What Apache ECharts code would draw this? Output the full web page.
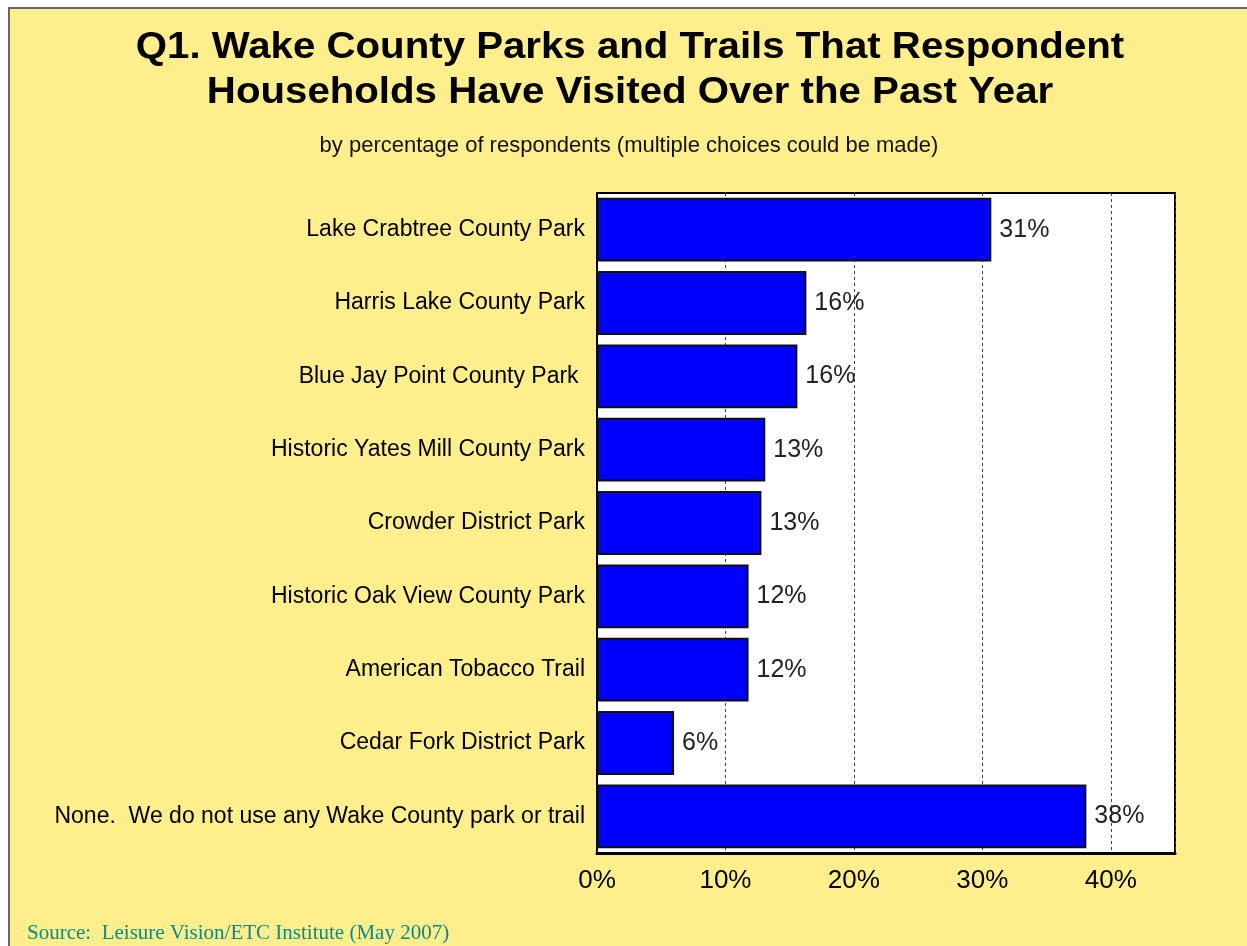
<!DOCTYPE html>
<html>
<head>
<meta charset="utf-8">
<script src="https://cdn.jsdelivr.net/npm/echarts@6/dist/echarts.min.js"></script>
<style>
  html, body { margin: 0; padding: 0; background: #ffffff; }
  #frame {
    position: absolute; left: 8px; top: 7px; width: 1239px; height: 939px;
    background: #FFEE8C; border-top: 2px solid #666; border-left: 2px solid #666;
    box-sizing: border-box;
  }
  #chart { position: absolute; left: 0; top: 0; width: 1247px; height: 946px; }
</style>
</head>
<body>
<div id="frame"></div>
<div id="chart"></div>
<script>
// Parks and trails visited, share of respondent households (%)
const categories = [
  'Lake Crabtree County Park',
  'Harris Lake County Park',
  'Blue Jay Point County Park ',
  'Historic Yates Mill County Park',
  'Crowder District Park',
  'Historic Oak View County Park',
  'American Tobacco Trail',
  'Cedar Fork District Park',
  'None.  We do not use any Wake County park or trail'
];
const visitedPct = [30.7, 16.3, 15.6, 13.1, 12.8, 11.8, 11.8, 6.0, 38.1];
const valueLabels = ['31%', '16%', '16%', '13%', '13%', '12%', '12%', '6%', '38%'];

const titleLines = [
  'Q1. Wake County Parks and Trails That Respondent',
  'Households Have Visited Over the Past Year'
];
const subtitleText = 'by percentage of respondents (multiple choices could be made)';
const sourceText = 'Source:  Leisure Vision/ETC Institute (May 2007)';

const SANS = 'Liberation Sans, Arial, sans-serif';

const chart = echarts.init(document.getElementById('chart'), null, { renderer: 'canvas' });

chart.setOption({
  backgroundColor: 'transparent',
  animation: false,
  graphic: [
    ...titleLines.map((line, i) => ({
      type: 'text', x: 630, y: 48 + i * 45, scaleX: 1.117, scaleY: 1,
      style: {
        text: line, font: 'bold 36px ' + SANS, fill: '#000',
        textAlign: 'center', textVerticalAlign: 'middle'
      }
    })),
    {
      type: 'text', x: 629, y: 146,
      style: {
        text: subtitleText, font: '22px ' + SANS, fill: '#111',
        textAlign: 'center', textVerticalAlign: 'middle'
      }
    },
    {
      type: 'text', x: 27, y: 933,
      style: {
        text: sourceText, font: '21px Liberation Serif, Times New Roman, serif', fill: '#0A8A8A',
        textAlign: 'left', textVerticalAlign: 'middle'
      }
    }
  ],
  grid: {
    left: 597, top: 193, right: 72, bottom: 93,
    show: true, backgroundColor: '#ffffff', borderColor: '#000', borderWidth: 2
  },
  xAxis: {
    type: 'value', min: 0, max: 45, interval: 10,
    axisLine: { show: true, onZero: false, lineStyle: { color: '#000', width: 3 } },
    axisTick: { show: false },
    axisLabel: {
      margin: 15,
      fontFamily: SANS, fontSize: 26, color: '#000',
      formatter: v => (v % 10 === 0 ? v + '%' : '')
    },
    splitLine: {
      show: true,
      lineStyle: { color: '#444', width: 1, type: [3, 3] }
    }
  },
  yAxis: {
    type: 'category', data: categories, inverse: true,
    axisLine: { show: true, lineStyle: { color: '#000', width: 2 } },
    axisTick: { show: false },
    axisLabel: {
      margin: 12,
      fontFamily: SANS, fontSize: 23, color: '#000'
    }
  },
  series: [{
    type: 'bar',
    data: visitedPct,
    barCategoryGap: '13%',
    itemStyle: { color: '#0000FF', borderColor: '#111', borderWidth: 2 },
    label: {
      show: true, position: 'right', distance: 8,
      fontFamily: SANS, fontSize: 25, color: '#222',
      formatter: p => valueLabels[p.dataIndex]
    }
  }]
});
</script>
</body>
</html>
